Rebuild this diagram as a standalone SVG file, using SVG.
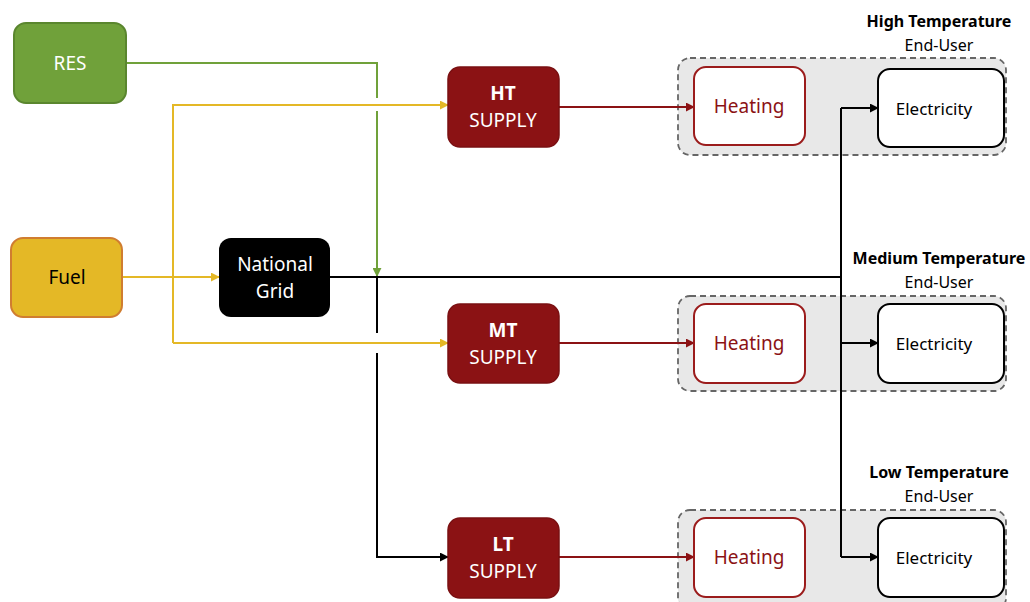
<svg xmlns="http://www.w3.org/2000/svg" width="1030" height="602" viewBox="0 0 1030 602">
  <style>
    text { font-family: "Noto Sans", "Open Sans", sans-serif; text-anchor: middle; dominant-baseline: central; }
    .src { font-size: 19px; }
    .sup { font-size: 19px; fill: #ffffff; }
    .supb { font-size: 19px; font-weight: bold; fill: #ffffff; }
    .supply { fill: #8b1214; stroke: #7a1012; stroke-width: 1.5; }
    .heat { fill: #ffffff; stroke: #9b1c1c; stroke-width: 2; }
    .heat-t { font-size: 19px; fill: #8b1214; }
    .elec { fill: #ffffff; stroke: #000000; stroke-width: 2; }
    .elec-t { font-size: 17px; fill: #000000; }
    .zone { fill: #e8e8e8; stroke: #666666; stroke-width: 1.8; stroke-dasharray: 6 4; }
    .title { font-size: 16px; font-weight: bold; fill: #000000; }
    .sub { font-size: 16px; fill: #000000; }
    .c { fill: none; stroke-width: 2; }
    .green { stroke: #70a13a; }
    .yellow { stroke: #e4b826; }
    .black { stroke: #000000; }
    .red { stroke: #8b1214; }
  </style>
  <defs>
    <marker id="ag" viewBox="0 0 10 10" refX="9" refY="5" markerWidth="9" markerHeight="9" markerUnits="userSpaceOnUse" orient="auto"><path d="M0,0 L10,5 L0,10 z" fill="#70a13a"/></marker>
    <marker id="ay" viewBox="0 0 10 10" refX="9" refY="5" markerWidth="9" markerHeight="9" markerUnits="userSpaceOnUse" orient="auto"><path d="M0,0 L10,5 L0,10 z" fill="#e4b826"/></marker>
    <marker id="ak" viewBox="0 0 10 10" refX="9" refY="5" markerWidth="9" markerHeight="9" markerUnits="userSpaceOnUse" orient="auto"><path d="M0,0 L10,5 L0,10 z" fill="#000000"/></marker>
    <marker id="ar" viewBox="0 0 10 10" refX="9" refY="5" markerWidth="9" markerHeight="9" markerUnits="userSpaceOnUse" orient="auto"><path d="M0,0 L10,5 L0,10 z" fill="#8b1214"/></marker>
  </defs>

  <!-- End-user zones -->
  <g id="zone-ht">
    <rect class="zone" x="678" y="58" width="328" height="97" rx="12"/>
    <text class="title" x="939" y="21">High Temperature</text>
    <text class="sub" x="939" y="45">End-User</text>
  </g>
  <g id="zone-mt">
    <rect class="zone" x="678" y="296" width="328" height="95" rx="12"/>
    <text class="title" x="939" y="258">Medium Temperature</text>
    <text class="sub" x="939" y="282">End-User</text>
  </g>
  <g id="zone-lt">
    <rect class="zone" x="678" y="510" width="328" height="100" rx="12"/>
    <text class="title" x="939" y="472">Low Temperature</text>
    <text class="sub" x="939" y="496">End-User</text>
  </g>

  <!-- Connectors -->
  <g id="connectors">
    <!-- RES to grid node, hopping the fuel line -->
    <path class="c green" d="M126,63 H377 V98"/>
    <path class="c green" marker-end="url(#ag)" d="M377,111 V276"/>
    <!-- Fuel lines -->
    <path class="c yellow" marker-end="url(#ay)" d="M122,277 H219"/>
    <path class="c yellow" marker-end="url(#ay)" d="M173,343 V105 H448"/>
    <path class="c yellow" marker-end="url(#ay)" d="M173,343 H448"/>
    <!-- National grid distribution -->
    <path class="c black" d="M330,277 H841"/>
    <path class="c black" d="M377,277 V333"/>
    <path class="c black" marker-end="url(#ak)" d="M377,353 V557 H448"/>
    <path class="c black" d="M841,108 V557"/>
    <path class="c black" marker-end="url(#ak)" d="M841,108 H878"/>
    <path class="c black" marker-end="url(#ak)" d="M841,343 H878"/>
    <path class="c black" marker-end="url(#ak)" d="M841,557 H878"/>
    <!-- Supply to heating -->
    <path class="c red" marker-end="url(#ar)" d="M559,107 H694"/>
    <path class="c red" marker-end="url(#ar)" d="M559,343 H694"/>
    <path class="c red" marker-end="url(#ar)" d="M559,557 H694"/>
  </g>

  <!-- Sources -->
  <g id="res">
    <rect x="14" y="23" width="112" height="80" rx="12" fill="#70a13a" stroke="#5a862e" stroke-width="2"/>
    <text class="src" x="70" y="63" fill="#ffffff">RES</text>
  </g>
  <g id="fuel">
    <rect x="11" y="238" width="111" height="79" rx="12" fill="#e4b826" stroke="#d07d30" stroke-width="2"/>
    <text class="src" x="67" y="277" fill="#000000">Fuel</text>
  </g>
  <g id="national-grid">
    <rect x="219" y="238" width="111" height="79" rx="12" fill="#000000"/>
    <text class="src" x="275" y="264" fill="#ffffff">National</text>
    <text class="src" x="275" y="291" fill="#ffffff">Grid</text>
  </g>

  <!-- Supplies -->
  <g id="ht-supply">
    <rect class="supply" x="448" y="67" width="111" height="80" rx="12"/>
    <text class="supb" x="503" y="93">HT</text>
    <text class="sup" x="503" y="120">SUPPLY</text>
  </g>
  <g id="mt-supply">
    <rect class="supply" x="448" y="304" width="111" height="79" rx="12"/>
    <text class="supb" x="503" y="330">MT</text>
    <text class="sup" x="503" y="357">SUPPLY</text>
  </g>
  <g id="lt-supply">
    <rect class="supply" x="448" y="518" width="111" height="80" rx="12"/>
    <text class="supb" x="503" y="544">LT</text>
    <text class="sup" x="503" y="571">SUPPLY</text>
  </g>

  <!-- End-user loads -->
  <g id="ht-heating">
    <rect class="heat" x="694" y="67" width="111" height="78" rx="12"/>
    <text class="heat-t" x="749" y="106">Heating</text>
  </g>
  <g id="ht-electricity">
    <rect class="elec" x="878" y="69" width="126" height="78" rx="12"/>
    <text class="elec-t" x="934" y="108">Electricity</text>
  </g>
  <g id="mt-heating">
    <rect class="heat" x="694" y="304" width="111" height="79" rx="12"/>
    <text class="heat-t" x="749" y="343">Heating</text>
  </g>
  <g id="mt-electricity">
    <rect class="elec" x="878" y="304" width="126" height="79" rx="12"/>
    <text class="elec-t" x="934" y="343">Electricity</text>
  </g>
  <g id="lt-heating">
    <rect class="heat" x="694" y="518" width="111" height="79" rx="12"/>
    <text class="heat-t" x="749" y="557">Heating</text>
  </g>
  <g id="lt-electricity">
    <rect class="elec" x="878" y="518" width="126" height="79" rx="12"/>
    <text class="elec-t" x="934" y="557">Electricity</text>
  </g>
</svg>
